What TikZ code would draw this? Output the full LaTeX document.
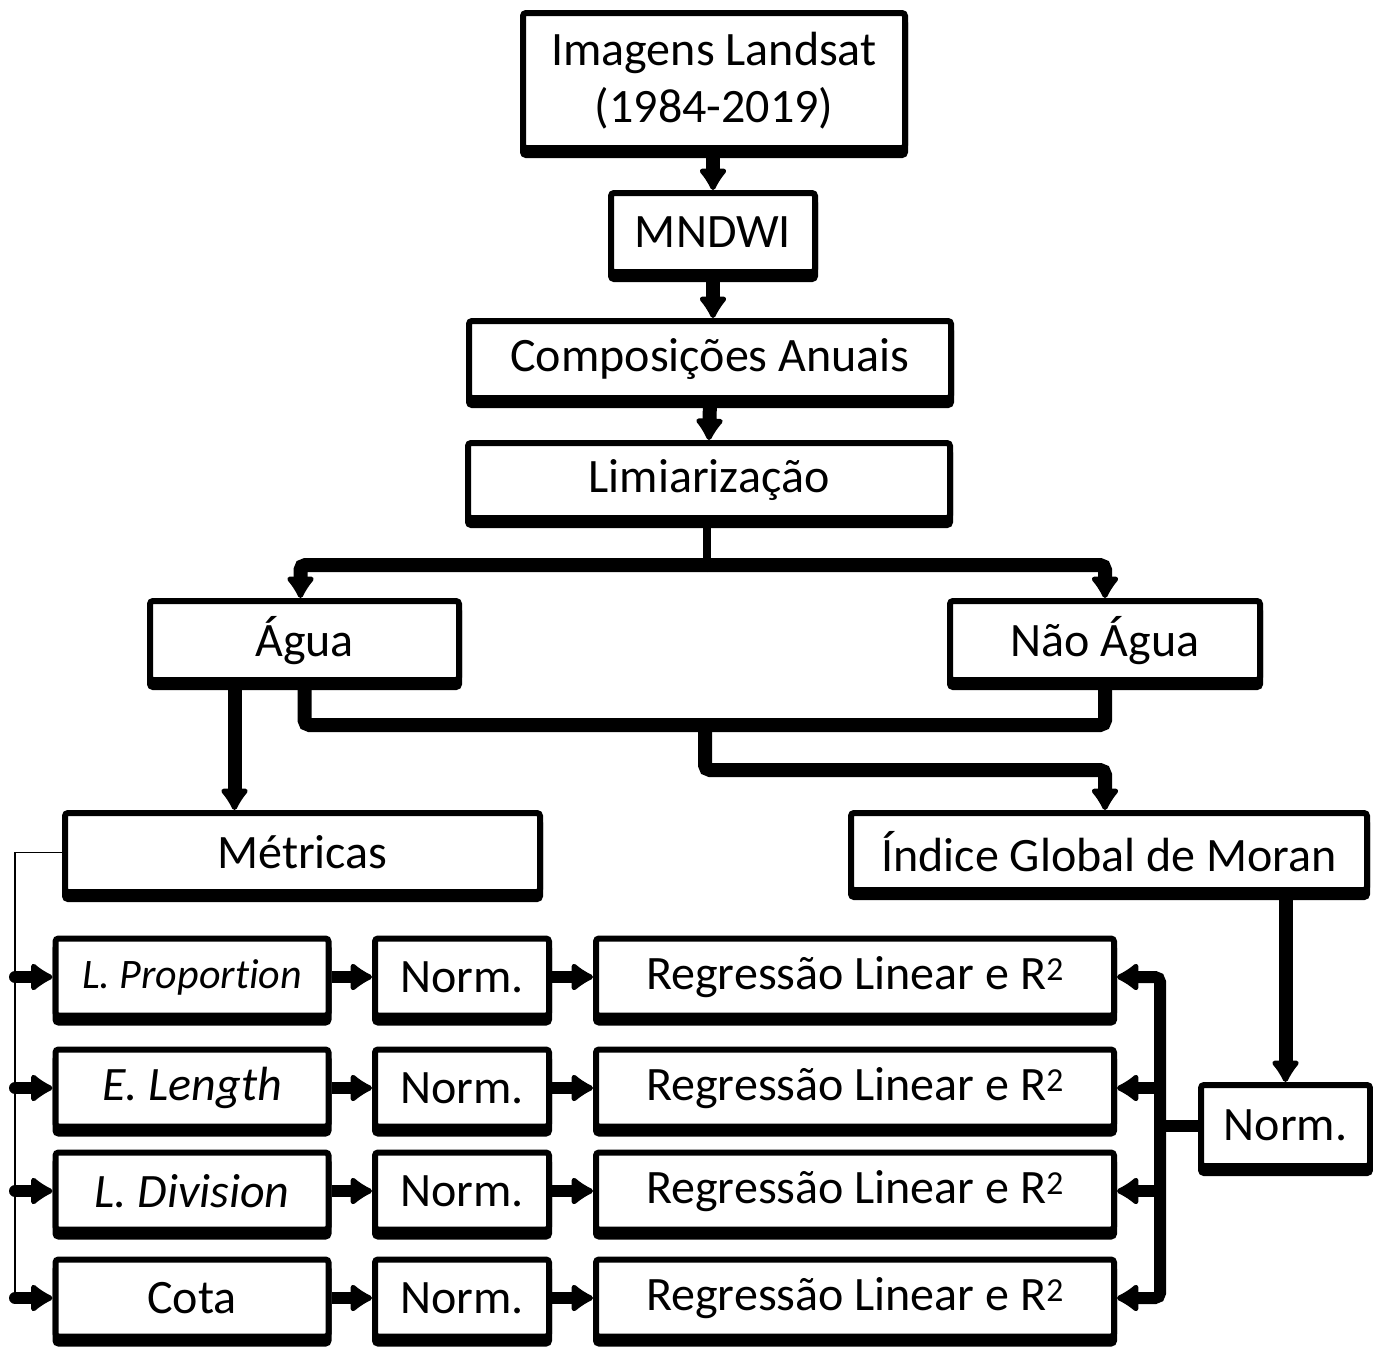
\documentclass[tikz,border=0pt]{standalone}
\usepackage{fontspec}
\setmainfont{Carlito}[Ligatures=CommonOff]
\usetikzlibrary{arrows.meta,shadows}
\tikzset{
  ponta/.tip={Latex[round,length=25pt,width=34pt,line width=7pt]},
  bloco/.style={draw,line width=6pt,rounded corners=3pt,fill=white,inner sep=0pt,
    general shadow={fill=black,draw=black,line width=6pt,rounded corners=3pt,shadow yshift=-7pt},
    font=\fontsize{48pt}{57pt}\selectfont,align=center},
  liga/.style={line width=14pt,rounded corners=5pt},
  seta/.style={liga,-ponta},
  setah/.style={line width=12pt,rounded corners=5pt,-ponta},
}

\begin{document}
\begin{tikzpicture}[x=1pt,y=-1pt]
\useasboundingbox (0,0) rectangle (1373,1347);
\node[bloco,minimum width=382pt,minimum height=135pt] (landsat) at (714,80.5) {Imagens Landsat\\(1984-2019)};
\node[bloco,minimum width=204pt,minimum height=79pt] (mndwi) at (713,232.5) {MNDWI};
\node[bloco,minimum width=482pt,minimum height=77pt] (compos) at (710,359.5) {Composições Anuais};
\node[bloco,minimum width=482pt,minimum height=75pt] (limiar) at (709,480.5) {Limiarização};
\node[bloco,minimum width=309pt,minimum height=79pt] (agua) at (304.5,640.5) {Água};
\node[bloco,minimum width=310pt,minimum height=79pt] (naoagua) at (1105,640.5) {Não Água};
\node[bloco,minimum width=475pt,minimum height=79pt] (metricas) at (302.5,852.5) {Métricas};
\node[bloco,minimum width=516pt,minimum height=77pt] (moran) at (1109,851.5) {Índice Global de Moran};
\node[bloco,minimum width=169pt,minimum height=81pt] (normmoran) at (1285.5,1125.5) {Norm.};

\foreach \id/\txt/\y in {a/{\fontsize{42pt}{48pt}\selectfont\itshape L. Proportion}/977,
    b/{\itshape E. Length}/1088, c/{\itshape L. Division}/1191, d/Cota/1298} {
  \node[bloco,minimum width=273pt,minimum height=77pt] (met\id) at (192,\y) {\txt};
  \node[bloco,minimum width=174pt,minimum height=77pt] (norm\id) at (462,\y) {Norm.};
  \node[bloco,minimum width=518pt,minimum height=77pt] (reg\id) at (855,\y) {Regressão Linear e R\textsuperscript{2}};
}

\coordinate (split) at (707,565);
\coordinate (merge) at (705,725);
\coordinate (desvio) at (705,770);
\coordinate (barra) at (15,1298);
\coordinate (coluna) at (1160,1125.5);

\draw[seta] (landsat.south -| mndwi.north) -- (mndwi.north);
\draw[seta] (mndwi.south) -- (mndwi.south |- compos.north);
\draw[seta] (compos.south) -- (limiar.north);
\draw[liga,line width=8pt] (limiar.south -| split) -- (split);
\draw[seta] (split) -| ([xshift=-4pt]agua.north);
\draw[seta] (split) -| (naoagua.north);
\draw[liga] (agua.south) |- (merge) -| (naoagua.south);
\draw[seta] (merge) -- (desvio) -| ([xshift=-4pt]moran.north);
\draw[seta] ([xshift=-70pt]agua.south) -- ([xshift=-70pt]agua.south |- metricas.north);
\draw[line width=1.5pt] (metricas.west) -| (barra);
\foreach \id in {a,b,c,d} {
  \draw[setah,line cap=round] (met\id.west -| barra) -- (met\id.west);
  \draw[setah] (met\id.east) -- (norm\id.west);
  \draw[setah] (norm\id.east) -- (reg\id.west);
}
\draw[setah,ponta-ponta] (rega.east) -| (coluna) |- (regd.east);
\draw[setah] (coluna |- regb.east) -- (regb.east);
\draw[setah] (coluna |- regc.east) -- (regc.east);
\draw[liga,line width=12pt] (coluna) -- (normmoran.west);
\draw[seta] (moran.south -| normmoran.north) -- (normmoran.north);
\end{tikzpicture}
\end{document}
